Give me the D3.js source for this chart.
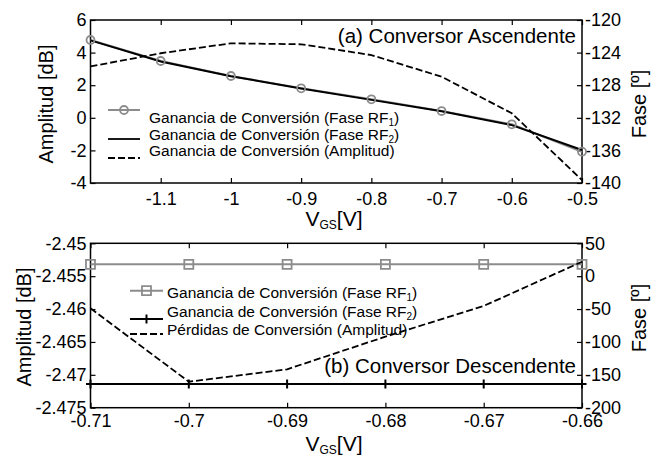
<!DOCTYPE html>
<html>
<head>
<meta charset="utf-8">
<script src="https://cdn.jsdelivr.net/npm/d3@7"></script>
<style>
  body { margin: 0; background: #fff; }
  svg text { font-family: 'Liberation Sans', Arial, Helvetica, sans-serif; }
</style>
</head>
<body>
<div id="root"></div>
<script>
// (a) Conversor Ascendente
var vgsA = [-1.2, -1.1, -1.0, -0.9, -0.8, -0.7, -0.6, -0.5];
var faseRF1A = [-122.45, -125.03, -126.87, -128.38, -129.73, -131.17, -132.80, -136.16];
var faseRF2A = [-122.5, -125.1, -126.9, -128.4, -129.8, -131.2, -132.9, -135.95];
var amplitudA = [3.15, 3.96, 4.57, 4.51, 3.85, 2.52, 0.28, -3.82];

var xTicksA = [-1.1, -1, -0.9, -0.8, -0.7, -0.6, -0.5];
var yLeftTicksA = [-4, -2, 0, 2, 4, 6];
var yRightTicksA = [-140, -136, -132, -128, -124, -120];

// (b) Conversor Descendente
var vgsB = [-0.71, -0.70, -0.69, -0.68, -0.67, -0.66];
var faseRF1B = [18, 18, 18, 18, 18, 18];
var faseRF2B = [-164, -164, -164, -164, -164, -164];
var perdidasB = [-2.45988, -2.47105, -2.46916, -2.4642, -2.45953, -2.4528];

var xTicksB = [-0.71, -0.7, -0.69, -0.68, -0.67, -0.66];
var yLeftTicksB = [-2.475, -2.47, -2.465, -2.46, -2.455, -2.45];
var yRightTicksB = [-200, -150, -100, -50, 0, 50];

var legendA = ['Ganancia de Conversión (Fase RF|1|)', 'Ganancia de Conversión (Fase RF|2|)', 'Ganancia de Conversión (Amplitud)'];
var legendB = ['Ganancia de Conversión (Fase RF|1|)', 'Ganancia de Conversión (Fase RF|2|)', 'Pérdidas de Conversión (Amplitud)'];

var w = 651,
    h = 457,
    gray = '#8c8c8c';

var svg = d3.select('#root')
  .append('svg')
    .attr('width', w)
    .attr('height', h);

var left = 90.5,
    right = 582;

function zip(xs, ys) {
  return xs.map(function (d, i) { return [d, ys[i]]; });
}

function styleAxis(g, size) {
  g.select('.domain').remove();
  g.selectAll('line').attr('stroke', '#000').attr('stroke-width', 1.2);
  g.selectAll('text')
      .attr('font-family', "'Liberation Sans', Arial, sans-serif")
      .attr('font-size', size)
      .attr('fill', '#000');
}

function drawPanel(p) {
  var g = svg.append('g');

  var x = d3.scaleLinear().domain(p.xDomain).range([left, right]);
  var yL = d3.scaleLinear().domain(p.yLDomain).range([p.bottom, p.top]);
  var yR = d3.scaleLinear().domain(p.yRDomain).range([p.bottom, p.top]);

  g.append('g')
      .attr('transform', 'translate(0,' + p.bottom + ')')
      .call(d3.axisBottom(x).tickValues(p.xTicks).tickSizeInner(-5).tickSizeOuter(0)
        .tickPadding(p.xPad).tickFormat(String))
      .call(styleAxis, 18);

  g.append('g')
      .attr('transform', 'translate(0,' + p.top + ')')
      .call(d3.axisTop(x).tickValues(p.xTicks).tickSizeInner(-5).tickSizeOuter(0).tickFormat(''))
      .call(styleAxis, 18);

  g.append('g')
      .attr('transform', 'translate(' + left + ',0)')
      .call(d3.axisLeft(yL).tickValues(p.yLTicks).tickSizeInner(-5).tickSizeOuter(0)
        .tickPadding(4).tickFormat(String))
      .call(styleAxis, 18);

  g.append('g')
      .attr('transform', 'translate(' + right + ',0)')
      .call(d3.axisRight(yR).tickValues(p.yRTicks).tickSizeInner(-5).tickSizeOuter(0)
        .tickPadding(3).tickFormat(String))
      .call(styleAxis, 18);

  g.append('rect')
      .attr('x', left)
      .attr('y', p.top)
      .attr('width', right - left)
      .attr('height', p.bottom - p.top)
      .attr('fill', 'none')
      .attr('stroke', '#000')
      .attr('stroke-width', 1.5);

  var lineR = d3.line()
      .x(function (d) { return x(d[0]); })
      .y(function (d) { return yR(d[1]); });
  var lineL = d3.line()
      .x(function (d) { return x(d[0]); })
      .y(function (d) { return yL(d[1]); });

  // phase RF1 (gray, hollow markers)
  var rf1 = zip(p.vgs, p.rf1);
  g.append('path')
      .attr('d', lineR(rf1))
      .attr('fill', 'none')
      .attr('stroke', gray)
      .attr('stroke-width', 2);

  // phase RF2 (black)
  var rf2 = zip(p.vgs, p.rf2);
  g.append('path')
      .attr('d', lineR(rf2))
      .attr('fill', 'none')
      .attr('stroke', '#000')
      .attr('stroke-width', 2);

  g.selectAll('.m1')
      .data(rf1)
    .enter().append('path')
      .attr('class', 'm1')
      .attr('transform', function (d) { return 'translate(' + x(d[0]) + ',' + yR(d[1]) + ')'; })
      .attr('d', p.marker1)
      .attr('fill', 'none')
      .attr('stroke', gray)
      .attr('stroke-width', 1.8);

  if (p.plus) {
    g.selectAll('.m2')
        .data(rf2)
      .enter().append('path')
        .attr('class', 'm2')
        .attr('transform', function (d) { return 'translate(' + x(d[0]) + ',' + yR(d[1]) + ')'; })
        .attr('d', 'M0,-4.5V4.5M-4.5,0H4.5')
        .attr('stroke', '#000')
        .attr('stroke-width', 2);
  }

  // amplitude (dashed, left axis)
  g.append('path')
      .attr('d', lineL(zip(p.vgs, p.amp)))
      .attr('fill', 'none')
      .attr('stroke', '#000')
      .attr('stroke-width', 1.8)
      .attr('stroke-dasharray', '7,3');

  // legend
  var leg = g.append('g');
  p.legend.forEach(function (name, i) {
    var ly = p.legLines[i];
    var l = leg.append('line')
        .attr('x1', p.legX0)
        .attr('x2', p.legX1)
        .attr('y1', ly)
        .attr('y2', ly)
        .attr('stroke', i === 0 ? gray : '#000')
        .attr('stroke-width', i === 0 ? 2 : 1.8);
    if (i === 2) l.attr('stroke-dasharray', '7,3');
    if (i === 0) {
      leg.append('path')
          .attr('transform', 'translate(' + ((p.legX0 + p.legX1) / 2) + ',' + ly + ')')
          .attr('d', p.marker1)
          .attr('fill', 'none')
          .attr('stroke', gray)
          .attr('stroke-width', 1.8);
    }
    if (i === 1 && p.plus) {
      leg.append('path')
          .attr('transform', 'translate(' + ((p.legX0 + p.legX1) / 2) + ',' + ly + ')')
          .attr('d', 'M0,-4.5V4.5')
          .attr('stroke', '#000')
          .attr('stroke-width', 2);
    }
    var parts = name.split('|');
    var t = leg.append('text')
        .attr('x', p.legTextX)
        .attr('y', p.legBase[i])
        .attr('font-size', 15.5);
    t.append('tspan').text(parts[0]);
    if (parts.length > 1) {
      t.append('tspan').attr('font-size', 10).attr('dy', 3).text(parts[1]);
      t.append('tspan').attr('dy', -3).text(parts[2]);
    }
  });

  g.append('text')
      .attr('x', 576)
      .attr('y', p.titleY)
      .attr('text-anchor', 'end')
      .attr('font-size', 20.5)
      .text(p.title);

  // axis titles
  g.append('text')
      .attr('transform', 'translate(' + p.ampX + ',' + p.ampY + ') rotate(-90)')
      .attr('text-anchor', 'middle')
      .attr('font-size', 20)
      .text('Amplitud [dB]');

  g.append('text')
      .attr('transform', 'translate(646,' + p.faseY + ') rotate(-90)')
      .attr('text-anchor', 'middle')
      .attr('font-size', 20)
      .text('Fase [º]');

  var xl = g.append('text')
      .attr('x', 334)
      .attr('y', p.xLabelY)
      .attr('text-anchor', 'middle')
      .attr('font-size', 21);
  xl.append('tspan').text('V');
  xl.append('tspan').attr('font-size', 12).attr('dy', 3).text('GS');
  xl.append('tspan').attr('dy', -3).text('[V]');
}

var circle = d3.symbol().type(d3.symbolCircle).size(50)();
var square = 'M-4.5,-4.5H4.5V4.5H-4.5Z';

drawPanel({
  xDomain: [-1.2, -0.5], yLDomain: [-4, 6], yRDomain: [-140, -120],
  top: 20, bottom: 183,
  xTicks: xTicksA, yLTicks: yLeftTicksA, yRTicks: yRightTicksA, xPad: 9,
  vgs: vgsA, rf1: faseRF1A, rf2: faseRF2A, amp: amplitudA,
  marker1: circle, plus: false,
  legend: legendA, legX0: 108, legX1: 140, legTextX: 149,
  legLines: [110, 139, 158], legBase: [123, 140, 156],
  title: '(a) Conversor Ascendente', titleY: 43,
  ampX: 53, ampY: 104, faseY: 104, xLabelY: 226
});

drawPanel({
  xDomain: [-0.71, -0.66], yLDomain: [-2.475, -2.45], yRDomain: [-200, 50],
  top: 243.3, bottom: 407.7,
  xTicks: xTicksB, yLTicks: yLeftTicksB, yRTicks: yRightTicksB, xPad: 7,
  vgs: vgsB, rf1: faseRF1B, rf2: faseRF2B, amp: perdidasB,
  marker1: square, plus: true,
  legend: legendB, legX0: 130, legX1: 163, legTextX: 167,
  legLines: [290.7, 319, 334], legBase: [298, 317, 335],
  title: '(b) Conversor Descendente', titleY: 373,
  ampX: 31, ampY: 327, faseY: 318, xLabelY: 451
});
</script>
</body>
</html>
